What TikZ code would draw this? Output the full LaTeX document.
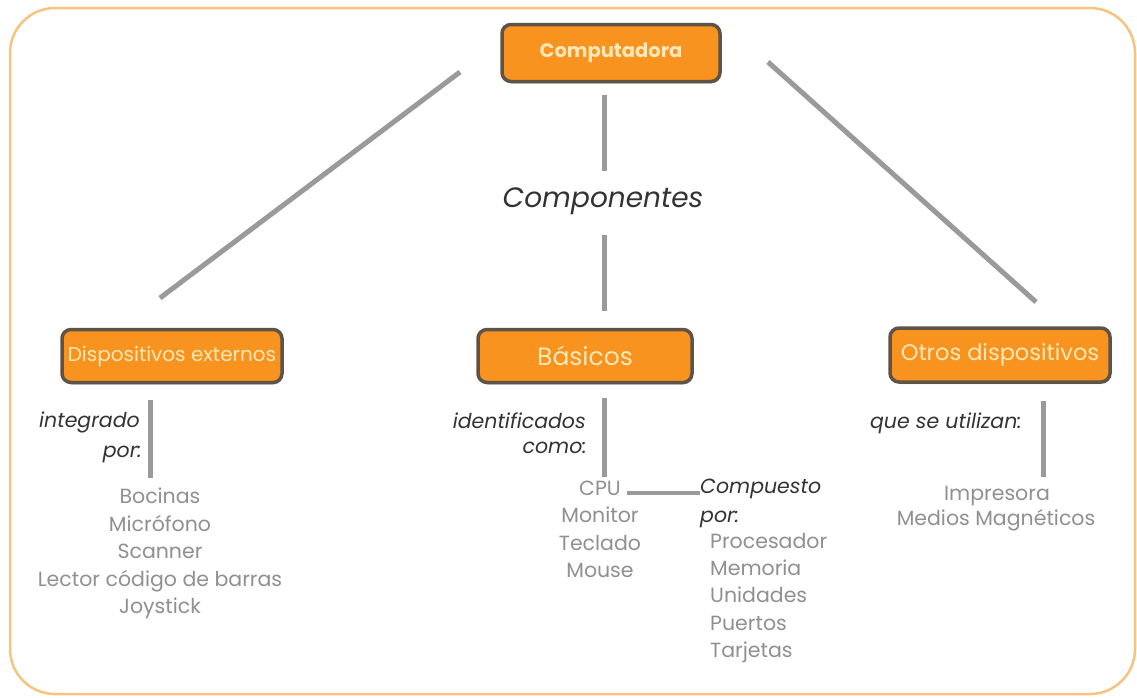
\documentclass[tikz,border=0pt]{standalone}
\usepackage{fontspec}
\setmainfont{Poppins}
\usetikzlibrary{shadows}
\definecolor{boxfill}{HTML}{F7931E}
\definecolor{boxedge}{HTML}{5E5346}
\definecolor{boxtext}{HTML}{FFE8B8}
\definecolor{linkgray}{HTML}{9A9A9A}
\definecolor{notecol}{HTML}{333333}
\definecolor{itemcol}{HTML}{909090}
\definecolor{framecol}{HTML}{F6C47F}
\begin{document}
\begin{tikzpicture}[x=1pt,y=-1pt,
  box/.style={draw=boxedge, line width=3.5pt, fill=boxfill, rounded corners=9pt,
    text=boxtext, inner sep=0pt, anchor=center,
    drop shadow={opacity=0.35, shadow xshift=1pt, shadow yshift=-2pt}},
  link/.style={draw=linkgray, line width=5pt},
  thinlink/.style={draw=linkgray, line width=3.5pt},
  note/.style={font=\itshape\fontsize{20.5}{22}\selectfont, text=notecol, inner sep=0pt,
    text height=15pt, text depth=5pt},
  item/.style={font=\fontsize{20.5}{22}\selectfont, text=itemcol, inner sep=0pt,
    text height=15pt, text depth=5pt}]
\useasboundingbox (0,0) rectangle (1137,697);
\fill[white] (0,0) rectangle (1137,697);
\draw[framecol, line width=2.5pt, rounded corners=45pt] (10,8) rectangle (1135,694);

% boxes
\node[box, minimum width=218pt, minimum height=57pt, font=\bfseries\fontsize{19.5}{22}\selectfont] (comp) at (611,53) {Computadora};
\node[box, minimum width=220pt, minimum height=53pt, font=\fontsize{20}{22}\selectfont] (ext) at (172,356) {Dispositivos externos};
\node[box, minimum width=214pt, minimum height=53pt, font=\fontsize{25}{27}\selectfont] (bas) at (585,356) {Básicos};
\node[box, minimum width=220pt, minimum height=54pt, font=\fontsize{22.5}{24}\selectfont] (otr) at (1000,355) {Otros dispositivos};

% central label
\node[font=\itshape\fontsize{28}{30}\selectfont, text=notecol, inner sep=0pt] (cmp) at (603,201) {Componentes};

% connector ends
\coordinate (l1) at (460,72);  \coordinate (l2) at (160,298);
\coordinate (r1) at (768,62);  \coordinate (r2) at (1036,302);
\coordinate (v1) at (604,95);  \coordinate (v2) at (604,171);
\coordinate (v3) at (604,235); \coordinate (v4) at (604,311);
\draw[link] (l1) -- (l2);
\draw[link] (r1) -- (r2);
\draw[link] (v1) -- (v2);
\draw[link] (v3) -- (v4);

% left branch
\node[note, anchor=east] (ig1) at (140,422) {integrado};
\node[note, anchor=east] (ig2) at (142,452) {por:};
\coordinate (a1) at (150,400); \coordinate (a2) at (150,478);
\draw[link] (a1) -- (a2);
\node[item] (e1) at (160,498) {Bocinas};
\node[item] (e2) at (160,526) {Micrófono};
\node[item] (e3) at (160,553) {Scanner};
\node[item] (e4) at (160,581) {Lector código de barras};
\node[item] (e5) at (160,608) {Joystick};

% middle branch
\node[note, anchor=east] (id1) at (586,423) {identificados};
\node[note, anchor=east] (id2) at (587,448) {como:};
\coordinate (b1) at (604,398); \coordinate (b2) at (604,477);
\draw[link] (b1) -- (b2);
\node[item] (cpu) at (600,490) {CPU};
\node[item] (m2) at (600,517) {Monitor};
\node[item] (m3) at (600,545) {Teclado};
\node[item] (m4) at (600,572) {Mouse};
\node[note, anchor=west] (cp1) at (700,488) {Compuesto};
\node[note, anchor=west] (cp2) at (700,517) {por:};
\path (cpu.east) ++(6,3) coordinate (h1);
\draw[thinlink] (h1) -- (h1 -| cp1.west);
\node[item, anchor=west] (p1) at (710,543) {Procesador};
\node[item, anchor=west] (p2) at (710,570) {Memoria};
\node[item, anchor=west] (p3) at (710,597) {Unidades};
\node[item, anchor=west] (p4) at (710,625) {Puertos};
\node[item, anchor=west] (p5) at (710,652) {Tarjetas};

% right branch
\node[note, anchor=east] (q1) at (1022,423) {que se utilizan:};
\coordinate (c1) at (1043,401); \coordinate (c2) at (1043,477);
\draw[link] (c1) -- (c2);
\node[item] (o1) at (997,495) {Impresora};
\node[item] (o2) at (996,520) {Medios Magnéticos};
\end{tikzpicture}
\end{document}
